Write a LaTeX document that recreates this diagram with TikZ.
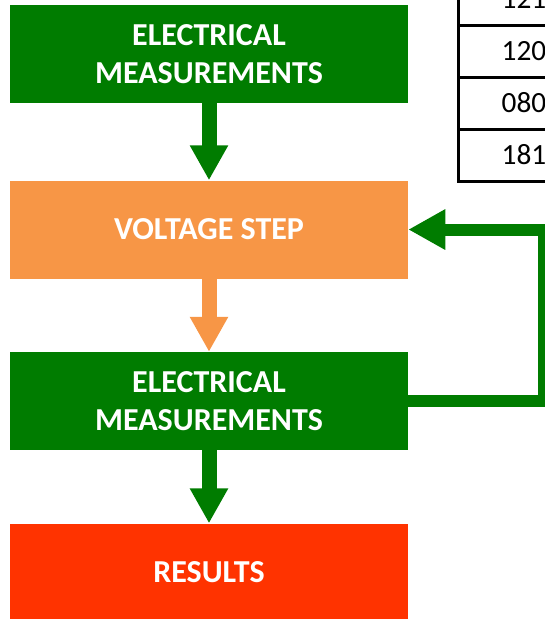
\documentclass[tikz,border=0pt]{standalone}
\usepackage{fontspec}
\setmainfont{Carlito}
\usetikzlibrary{arrows.meta, positioning}

\definecolor{measgreen}{RGB}{0,124,0}
\definecolor{steporange}{RGB}{247,150,70}
\definecolor{resultred}{RGB}{255,51,0}

\begin{document}
\begin{tikzpicture}[
    x=0.75pt, y=-0.75pt,
    box/.style={rectangle, minimum width=298.5pt, minimum height=73.5pt, inner sep=0pt, text centered, align=center, text=white, font=\bfseries\fontsize{24}{28.5}\selectfont},
    measbox/.style={box, fill=measgreen},
    voltbox/.style={box, fill=steporange},
    resbox/.style={box, fill=resultred},
    cell/.style={rectangle, draw=black, line width=2.25pt, minimum width=99pt, minimum height=39pt, outer sep=0pt, font=\fontsize{22}{26}\selectfont},
    arrow/.style={line width=11.25pt, -{Triangle[width=27pt, length=26.25pt]}},
    loopback/.style={line width=9pt, draw=measgreen, -{Triangle[width=28.5pt, length=27.75pt]}}
]
\useasboundingbox (0,0) rectangle (545,619);
\clip (0,0) rectangle (545,619);

% process column
\node (meas1) [measbox] at (209,54) {ELECTRICAL\\MEASUREMENTS};
\node (step) [voltbox, below=57.75pt of meas1] {VOLTAGE STEP};
\node (meas2) [measbox, below=54.75pt of step] {ELECTRICAL\\MEASUREMENTS};
\node (res) [resbox, below=54.75pt of meas2] {RESULTS};

% table, cut at the edge
\node (r1) [cell] at (524,-1) {121};
\node (r2) [cell, below=0pt of r1] {120};
\node (r3) [cell, below=0pt of r2] {080};
\node (r4) [cell, below=0pt of r3] {181};

\draw [arrow, draw=measgreen] (meas1) -- (step);
\draw [arrow, draw=steporange] (step) -- (meas2);
\draw [arrow, draw=measgreen] (meas2) -- (res);
\draw [loopback] (meas2.east) -- ++(102pt,0) |- (step.east);

\end{tikzpicture}
\end{document}
